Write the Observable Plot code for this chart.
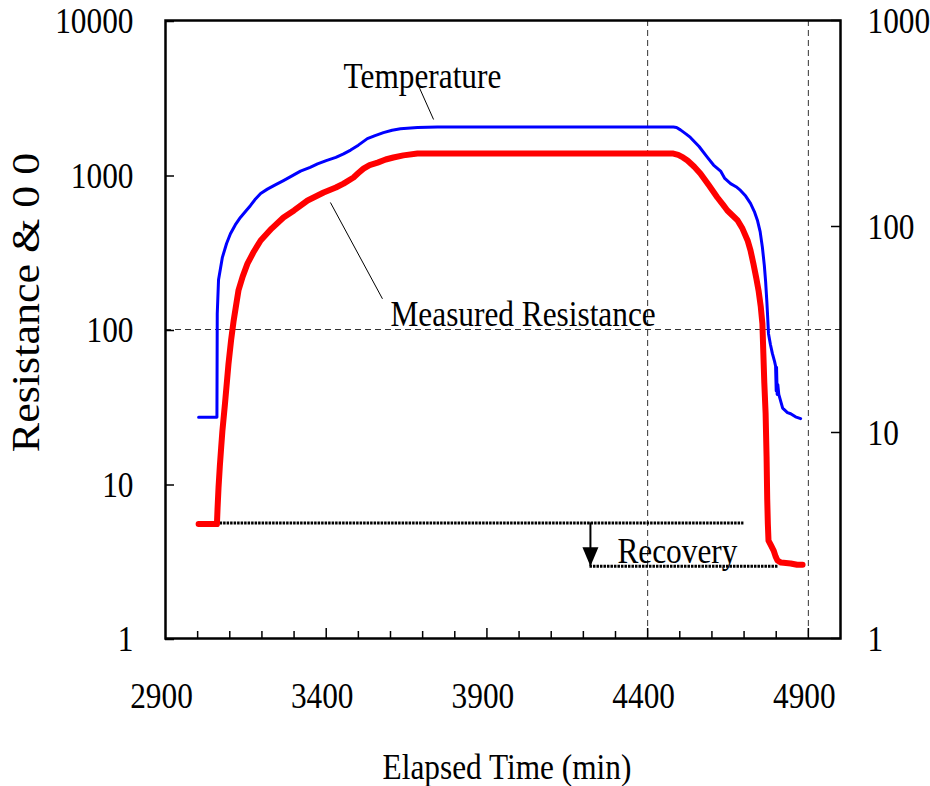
<!DOCTYPE html>
<html><head><meta charset="utf-8">
<script src="https://cdn.jsdelivr.net/npm/d3@7"></script>
<script src="https://cdn.jsdelivr.net/npm/@observablehq/plot@0.6"></script>
<style>html,body{margin:0;padding:0;background:#fff;}</style>
</head><body><div id="chart"></div>
<script>
// ---- data ----
const tempTime  = [3003,3060,3061,3065,3077,3090,3102,3117,3133,3150,3164,3180,3196,3217,3240,3267,3295,3320,3350,3373,3400,3430,3454,3476,3500,3528,3552,3578,3605,3631,3684,3746,4480,4490,4502,4520,4533,4560,4586,4605,4627,4640,4658,4675,4689,4705,4720,4732,4742,4750,4757,4763,4767,4771,4773,4776,4782,4788,4795,4798,4800,4801,4803,4805,4808,4820,4835,4845,4860,4876];
const tempValue = [27,27,126,210,293,360,417,475,531,585,633,700,760,810,860,920,990,1060,1120,1180,1240,1300,1370,1450,1560,1720,1800,1880,1950,1990,2030,2045,2045,2030,1960,1840,1750,1530,1300,1160,1060,950,880,840,795,730,655,580,505,430,340,260,205,150,125,94,80,70,62,58,40,57,38,44,38,31,29,28.5,27.2,26.5];

const resTime  = [3003,3060,3062,3065,3069,3073,3077,3085,3096,3104,3112,3120,3127,3140,3155,3175,3196,3230,3267,3300,3342,3392,3430,3454,3485,3500,3516,3535,3560,3585,3609,3640,3684,4480,4495,4510,4524,4545,4564,4590,4617,4635,4648,4665,4680,4695,4711,4720,4729,4738,4745,4752,4757,4760,4763,4767,4770,4772,4774,4776,4784,4792,4798,4804,4815,4845,4865,4882];
const resValue = [5.5,5.5,7,9.5,13,17,22,33,60,85,114,145,179,220,267,320,377,450,531,590,684,770,830,880,964,1030,1100,1160,1203,1260,1298,1340,1377,1377,1350,1300,1242,1130,1023,860,715,640,589,545,508,450,377,325,267,215,179,140,109,70,45,28.6,15,8,5.5,4.3,4.0,3.71,3.4,3.2,3.1,3.06,3.0,3.0];

const xTickLabels = [2900,3400,3900,4400,4900];
const xMajorTicks = [3400,3900,4400,4900];
const xMinorTicks = [3000,3100,3200,3300,3500,3600,3700,3800,4000,4100,4200,4300,4500,4600,4700,4800];
const yLeftTicks  = [1,10,100,1000,10000];
const yRightTicks = [1,10,100,1000];
const gridXValues = [4400,4900];
const gridYValues = [100];

const recoveryLevels = [
  {t1: 3003, t2: 4698, v: 5.6},
  {t1: 4219, t2: 4804, v: 2.93}
];
const arrowTime = 4222;
const arrowFrom = 5.6;
const arrowTo = 2.93;

const labels = [
  {t: 3454, v: 3630, text: "Temperature"},
  {t: 3600, v: 106, text: "Measured Resistance"},
  {t: 4306, v: 3.06, text: "Recovery"}
];
const leaders = [
  {t1: 3684, v1: 3910, t2: 3734, v2: 2287},
  {t1: 3413, v1: 664, t2: 3575, v2: 158}
];

// ---- build tables ----
const temp = tempTime.map((t, i) => ({t, v: tempValue[i]}));
const res = resTime.map((t, i) => ({t, v: resValue[i]}));

// right axis (1..1000) mapped onto left scale (1..10000)
const rightToLeft = v => Math.pow(10, Math.log10(v) * 4 / 3);

const downTriangle = {
  draw(context) {
    context.moveTo(0, 0);
    context.lineTo(-8, -19);
    context.lineTo(8, -19);
    context.closePath();
  }
};

const FS = 36;
const chart = Plot.plot({
  width: 930,
  height: 786,
  marginLeft: 165,
  marginRight: 90,
  marginTop: 20,
  marginBottom: 148,
  style: {fontFamily: "'Liberation Serif', 'Times New Roman', serif", fontSize: FS + "px", background: "#fff", color: "#000"},
  x: {domain: [2900, 5000], axis: null},
  y: {type: "log", domain: [1, 10000], axis: null},
  marks: [
    // grid lines
    Plot.ruleX(gridXValues, {stroke: "#333", strokeWidth: 1, strokeDasharray: "6,4"}),
    Plot.ruleY(gridYValues, {stroke: "#333", strokeWidth: 1, strokeDasharray: "6,4"}),
    // axes
    Plot.axisX({ticks: xMinorTicks, tickSize: -7, tickFormat: () => "", strokeWidth: 1.5}),
    Plot.axisX({ticks: xMajorTicks, tickSize: -10, tickFormat: () => "", strokeWidth: 1.5}),
    Plot.axisX({ticks: xTickLabels, tickSize: 0, tickPadding: 44, dx: -4, tickFormat: d => String(d), fontSize: FS}),
    Plot.axisY({anchor: "left", ticks: yLeftTicks, tickSize: -9, tickPadding: 41, dy: 1, strokeWidth: 1.5, tickFormat: d => String(d), fontSize: FS}),
    Plot.axisY({anchor: "right", ticks: yRightTicks.map(rightToLeft), tickSize: -10, tickFormat: () => "", strokeWidth: 1.5}),
    Plot.text(yRightTicks, {y: rightToLeft, text: d => String(d), frameAnchor: "right", dx: 27, dy: 1, textAnchor: "start", lineAnchor: "middle", fontSize: FS, fill: "#000"}),
    // recovery dotted levels
    Plot.link(recoveryLevels, {x1: "t1", x2: "t2", y1: "v", y2: "v", stroke: "#000", strokeWidth: 3, strokeDasharray: "2.5,1"}),
    // data lines
    Plot.line(temp, {x: "t", y: "v", stroke: "#0000ff", strokeWidth: 3}),
    Plot.line(res, {x: "t", y: "v", stroke: "#ff0000", strokeWidth: 6}),
    // arrow
    Plot.ruleX([arrowTime], {y1: arrowFrom, y2: arrowTo, stroke: "#000", strokeWidth: 2}),
    Plot.dot([{t: arrowTime, v: arrowTo}], {x: "t", y: "v", symbol: downTriangle, fill: "#000", stroke: null, r: 6}),
    // leader lines
    Plot.link(leaders, {x1: "t1", y1: "v1", x2: "t2", y2: "v2", stroke: "#000", strokeWidth: 1}),
    // labels
    Plot.text(labels, {x: "t", y: "v", text: "text", textAnchor: "start", lineAnchor: "bottom", fontSize: FS, fill: "#000"}),
    // axis titles
    Plot.text(["Elapsed Time (min)"], {frameAnchor: "bottom", dy: 140, dx: 4, lineAnchor: "bottom", textAnchor: "middle", fontSize: FS, fill: "#000"}),
    Plot.text(["Resistance & 0 0"], {frameAnchor: "left", dx: -139, dy: -27, rotate: -90, textAnchor: "middle", lineAnchor: "middle", fontSize: 44, fill: "#000"}),
    // frame
    Plot.frame({stroke: "#000", strokeWidth: 2.5})
  ]
});

// horizontally condensed serif lettering as in the reference
const K = 0.87;
chart.querySelectorAll("text").forEach(t => {
  const tr = t.getAttribute("transform") || "";
  if (tr.includes("rotate")) t.setAttribute("transform", tr + " scale(1,0.9)");
  else t.setAttribute("transform", tr + ` scale(${K},1)`);
});

document.getElementById("chart").appendChild(chart);
</script>
</body></html>
